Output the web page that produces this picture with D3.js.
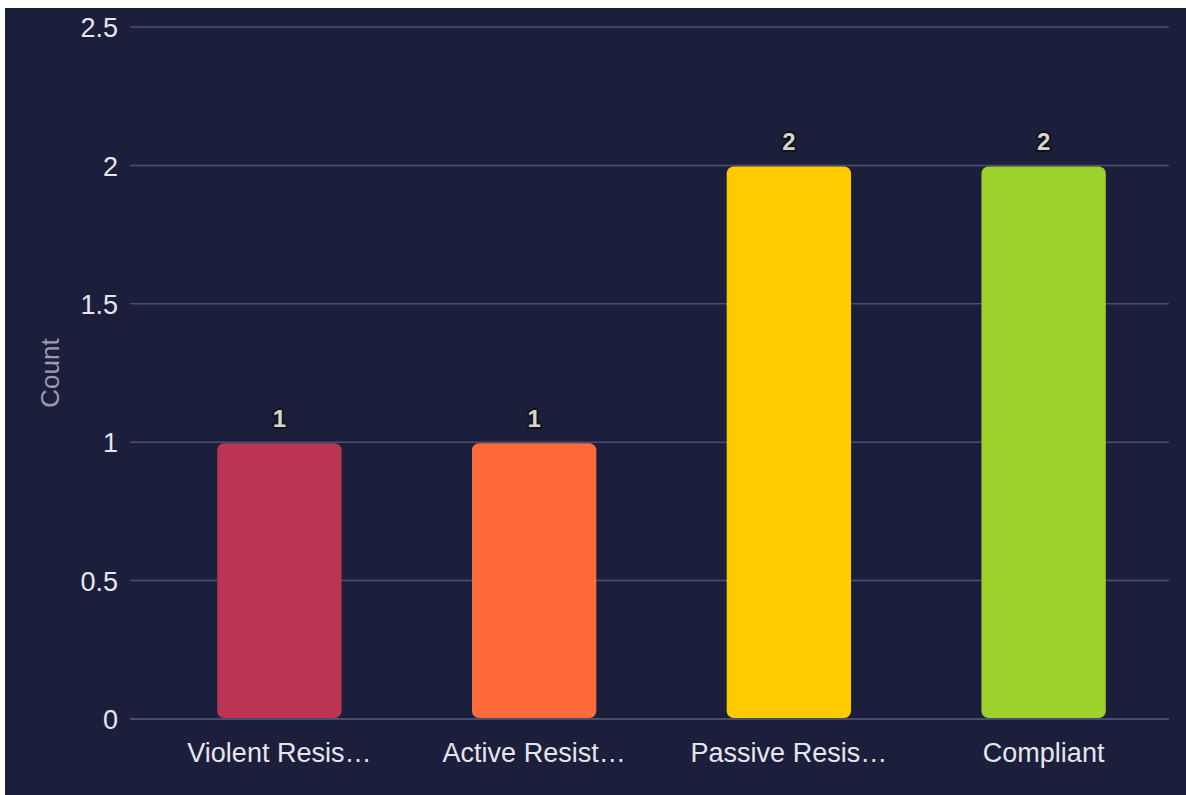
<!DOCTYPE html>
<html>
<head>
<meta charset="utf-8">
<script src="https://cdn.jsdelivr.net/npm/d3@7"></script>
<style>
  html, body { margin: 0; padding: 0; background: #ffffff; }
  svg { display: block; font-family: "Liberation Sans", Arial, sans-serif; }
</style>
</head>
<body>
<svg id="chart" width="1186" height="795"></svg>
<script>
// Resistance levels and how many times each was recorded
const categories = ["Violent Resistance", "Active Resistance", "Passive Resistance", "Compliant"];
const counts = [1, 1, 2, 2];
const barColors = ["#bc3453", "#ff6b3b", "#ffcb00", "#9dd22a"];
const yTicks = [0, 0.5, 1, 1.5, 2, 2.5];
const yTickLabels = ["0", "0.5", "1", "1.5", "2", "2.5"];

const svg = d3.select("#chart");

// dark panel
svg.append("rect")
  .attr("x", 5).attr("y", 8)
  .attr("width", 1181).attr("height", 787)
  .attr("fill", "#1c1f3c");

const x = d3.scaleBand()
  .domain(categories)
  .range([152, 1171])
  .paddingInner(0.512)
  .paddingOuter(0.256);

const y = d3.scaleLinear()
  .domain([0, 2.5])
  .range([719, 27]);

// horizontal grid
svg.append("g")
  .selectAll("line")
  .data(yTicks)
  .join("line")
  .attr("x1", 130).attr("x2", 1169)
  .attr("y1", d => y(d)).attr("y2", d => y(d))
  .attr("stroke", "#4b5070")
  .attr("stroke-width", 1.5);

// y axis tick labels
const yAxis = d3.axisLeft(y)
  .tickValues(yTicks)
  .tickFormat((d, i) => yTickLabels[i])
  .tickSize(0)
  .tickPadding(0);
const yg = svg.append("g").attr("transform", "translate(118,1)").call(yAxis);
yg.select(".domain").remove();
yg.selectAll("text")
  .attr("fill", "#e6e6ee")
  .attr("font-size", 27)
  .attr("font-family", "Liberation Sans, Arial, sans-serif");

// axis title
svg.append("text")
  .attr("transform", "translate(59,373) rotate(-90)")
  .attr("text-anchor", "middle")
  .attr("fill", "#9a9cab")
  .attr("font-size", 26)
  .text("Count");

// bars
svg.append("g")
  .selectAll("rect")
  .data(categories)
  .join("rect")
  .attr("x", d => x(d))
  .attr("y", (d, i) => y(counts[i]) + 1)
  .attr("width", x.bandwidth())
  .attr("height", (d, i) => y(0) - y(counts[i]) - 2)
  .attr("rx", 7)
  .attr("fill", (d, i) => barColors[i]);

// baseline
svg.append("line")
  .attr("x1", 130).attr("x2", 1169)
  .attr("y1", y(0)).attr("y2", y(0))
  .attr("stroke", "#4b5070")
  .attr("stroke-width", 1.5);

// value labels
svg.append("g")
  .selectAll("text")
  .data(categories)
  .join("text")
  .attr("x", d => x(d) + x.bandwidth() / 2)
  .attr("y", (d, i) => y(counts[i]) - 15)
  .attr("text-anchor", "middle")
  .attr("font-size", 24)
  .attr("font-weight", "bold")
  .attr("fill", "#d4d4d4")
  .attr("stroke", "#111111")
  .attr("stroke-width", 3.5)
  .attr("stroke-linejoin", "round")
  .attr("paint-order", "stroke")
  .text((d, i) => counts[i]);

// category labels, truncated to fit the band
const xAxis = d3.axisBottom(x)
  .tickSize(0)
  .tickPadding(0)
  .tickFormat(d => d.length > 14 ? d.slice(0, 13).trimEnd() + "…" : d);
const xg = svg.append("g").attr("transform", "translate(0,743)").call(xAxis);
xg.select(".domain").remove();
xg.selectAll("text")
  .attr("fill", "#e6e6ee")
  .attr("font-size", 27)
  .attr("font-family", "Liberation Sans, Arial, sans-serif");
</script>
</body>
</html>
